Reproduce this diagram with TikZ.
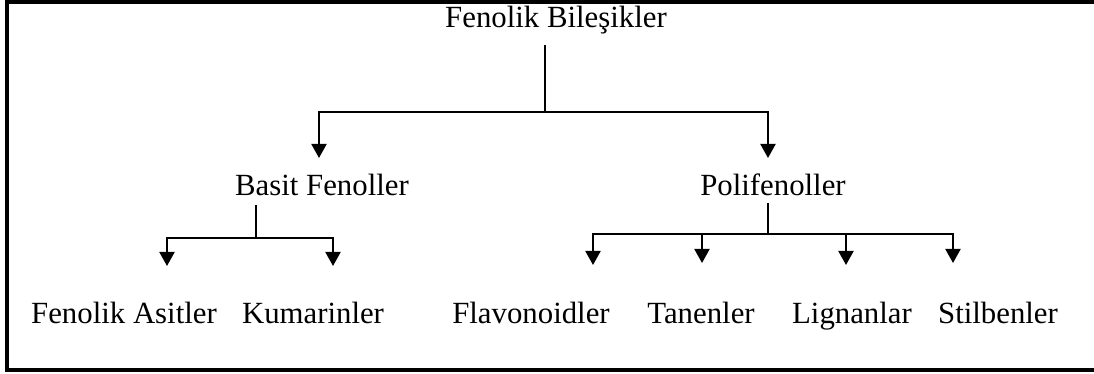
\documentclass[tikz,border=0pt]{standalone}
\usepackage{fontspec}
\setmainfont{Liberation Serif}
\usetikzlibrary{arrows.meta}

\begin{document}
\begin{tikzpicture}[x=0.5pt, y=-0.5pt,
    txt/.style={anchor=base, inner sep=0pt, font=\fontsize{15.4}{18}\selectfont},
    link/.style={line width=1pt},
    arrow/.style={link, -{Triangle[length=7pt,width=7.5pt]}}]
      \useasboundingbox (0,0) rectangle (1094,374);
      \clip (0,0) rectangle (1094,374);
      \draw[line width=2pt] (1110,1.7) -- (7,1.7) -- (7,369.5) -- (1110,369.5);
      \node[txt] (bilesik) at (556,28) {Fenolik Bileşikler};
      \node[txt] (basit) at (322,196) {Basit Fenoller};
      \node[txt] (polifenol) at (773,196) {Polifenoller};
      \node[txt] (asit) at (124,323) {Fenolik Asitler};
      \node[txt] (kumarin) at (313,323) {Kumarinler};
      \node[txt] (flavonoid) at (531,323) {Flavonoidler};
      \node[txt] (tanen) at (701,323) {Tanenler};
      \node[txt] (lignan) at (852,323) {Lignanlar};
      \node[txt] (stilben) at (998,323) {Stilbenler};
      \coordinate (bilesik-stem) at (545,45);
      \coordinate (bilesik-fork) at (545,112);
      \coordinate (basit-tip) at (319,158);
      \coordinate (polifenol-tip) at (768,158);
      \coordinate (basit-stem) at (256,205);
      \coordinate (basit-fork) at (256,238);
      \coordinate (asit-tip) at (167,266);
      \coordinate (kumarin-tip) at (333,266);
      \coordinate (polifenol-stem) at (768,203);
      \coordinate (polifenol-fork) at (768,234);
      \coordinate (flavonoid-tip) at (593,265);
      \coordinate (tanen-tip) at (702,263);
      \coordinate (lignan-tip) at (846,265);
      \coordinate (stilben-tip) at (953,263);
      \draw[link] (bilesik-stem) -- (bilesik-fork);
      \draw[arrow] (bilesik-fork) -| (basit-tip);
      \draw[arrow] (bilesik-fork) -| (polifenol-tip);
      \draw[link] (basit-stem) -- (basit-fork);
      \draw[arrow] (basit-fork) -| (asit-tip);
      \draw[arrow] (basit-fork) -| (kumarin-tip);
      \draw[link] (polifenol-stem) -- (polifenol-fork);
      \draw[arrow] (polifenol-fork) -| (flavonoid-tip);
      \draw[arrow] (polifenol-fork -| tanen-tip) -- (tanen-tip);
      \draw[arrow] (polifenol-fork -| lignan-tip) -- (lignan-tip);
      \draw[arrow] (polifenol-fork) -| (stilben-tip);
   \end{tikzpicture}
\end{document}
